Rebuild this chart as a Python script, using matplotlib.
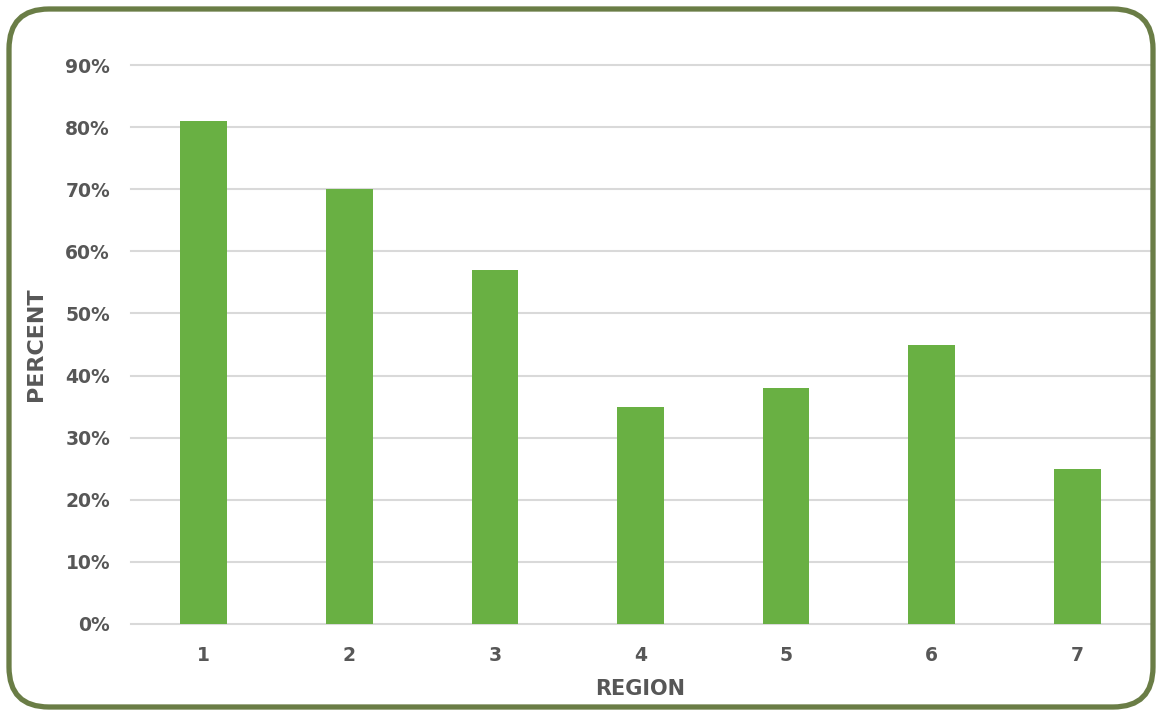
import numpy as np
import matplotlib.pyplot as plt
from matplotlib.patches import FancyBboxPatch
from matplotlib.ticker import FuncFormatter

regions = ['1', '2', '3', '4', '5', '6', '7']
percent = [81, 70, 57, 35, 38, 45, 25]
yticks = [0, 10, 20, 30, 40, 50, 60, 70, 80, 90]

bar_color = '#69b043'
text_color = '#575757'
frame_color = '#6a7d46'

plt.rcParams['font.family'] = ['DejaVu Sans']

fig = plt.figure(figsize=(11.62, 7.16), dpi=100)
fig.patch.set_facecolor('white')
ax = fig.add_axes([0.1127, 0.1285, 0.877, 0.7807])

x = np.arange(1, len(regions) + 1)
ax.bar(x, percent, width=0.32, color=bar_color, zorder=3)

ax.set_xlim(0.5, 7.5)
ax.set_ylim(0, 90)
ax.set_yticks(yticks)
ax.yaxis.set_major_formatter(FuncFormatter(lambda v, p: f'{v:.0f}%'))
ax.set_xticks(x)
ax.set_xticklabels(regions)

ax.grid(axis='y', color='#d9d9d9', linewidth=1.5, zorder=0)
ax.set_axisbelow(True)
for g in ax.get_ygridlines():
    g.set_clip_on(False)
for s in ax.spines.values():
    s.set_visible(False)
ax.tick_params(length=0, labelsize=13.5, labelcolor=text_color)
ax.tick_params(axis='y', pad=15)
ax.tick_params(axis='x', pad=16)
for lab in ax.get_xticklabels() + ax.get_yticklabels():
    lab.set_fontweight('bold')

ax.set_ylabel('PERCENT', fontsize=16, fontweight='bold', color=text_color, labelpad=14)
ax.set_xlabel('REGION', fontsize=15, fontweight='bold', color=text_color, labelpad=10)

# rounded frame round the whole chart, in pixel units
frame = FancyBboxPatch((9, 9), 1162 - 18, 716 - 18,
                       boxstyle='round,pad=0,rounding_size=40',
                       facecolor='none', edgecolor=frame_color, linewidth=3.8,
                       transform=None)
fig.add_artist(frame)

fig.savefig('out.png', dpi=100, facecolor='white')
